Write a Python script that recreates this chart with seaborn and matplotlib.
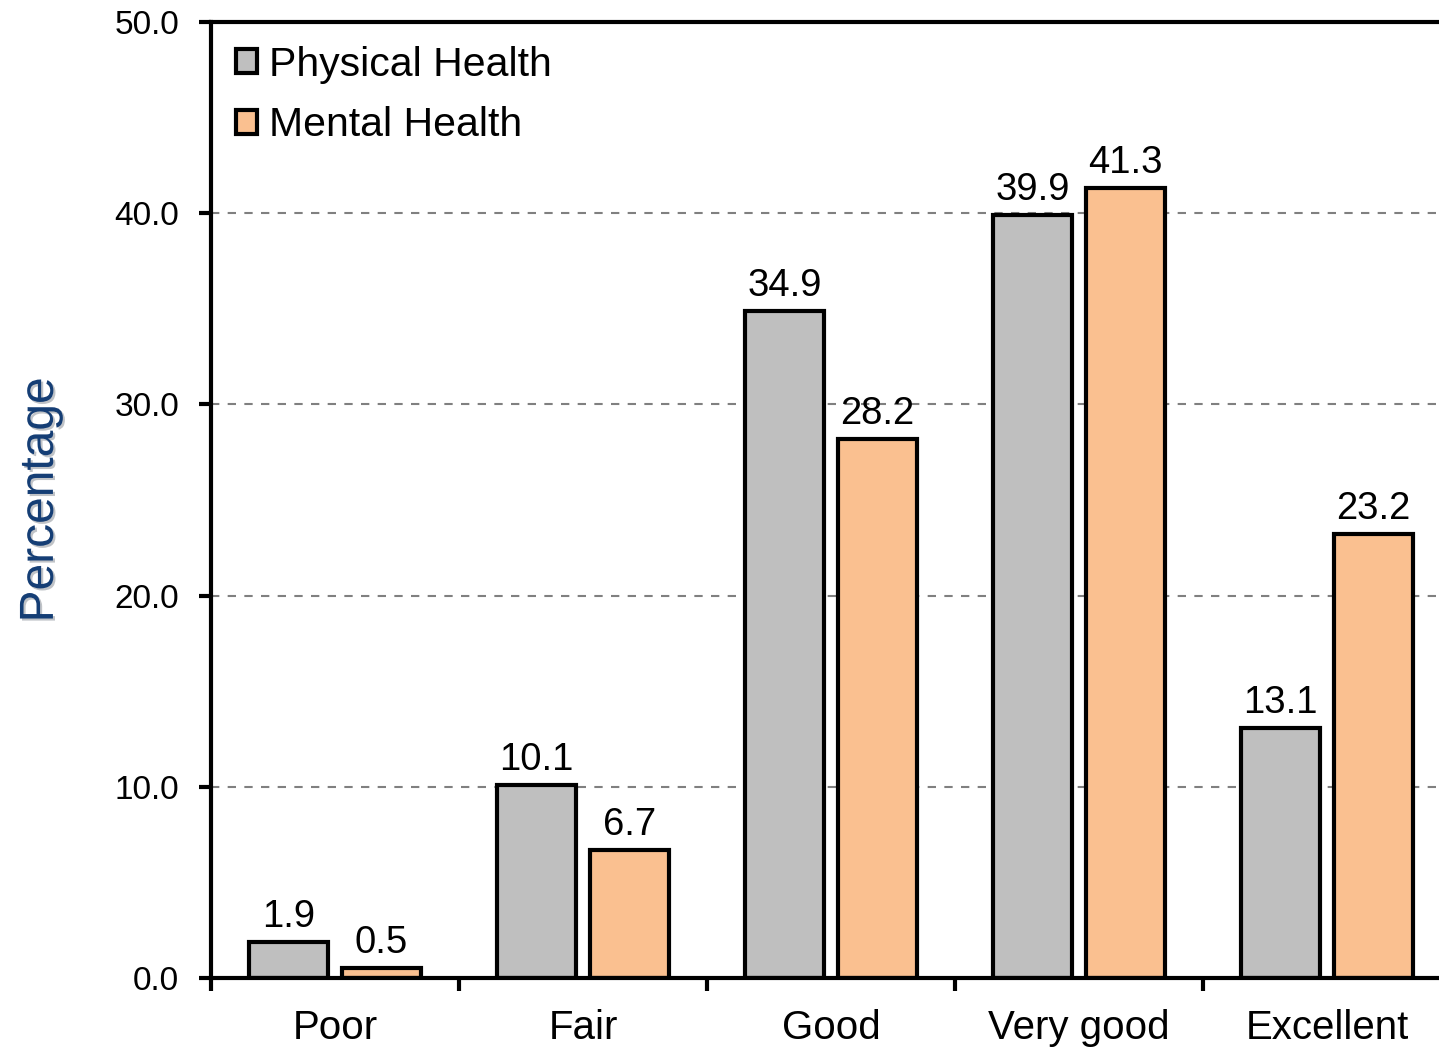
import pandas as pd
import seaborn as sns
import matplotlib.pyplot as plt
import matplotlib.patheffects as pe

categories = ["Poor", "Fair", "Good", "Very good", "Excellent"]
physical = [1.9, 10.1, 34.9, 39.9, 13.1]
mental = [0.5, 6.7, 28.2, 41.3, 23.2]
series = ["Physical Health", "Mental Health"]
colors = {"Physical Health": "#BFBFBF", "Mental Health": "#FAC090"}

df = pd.DataFrame({
    "category": categories * 2,
    "value": physical + mental,
    "series": [series[0]] * len(categories) + [series[1]] * len(categories),
})

sns.set_style("white")
plt.rcParams["font.family"] = ["Liberation Sans", "DejaVu Sans"]
plt.rcParams["text.color"] = "black"
plt.rcParams["xtick.color"] = "black"
plt.rcParams["ytick.color"] = "black"

fig = plt.figure(figsize=(14.39, 10.48), dpi=100)
ax = fig.add_axes([211 / 1439, 1 - 978 / 1048, 1240 / 1439, 956 / 1048])

sns.barplot(data=df, x="category", y="value", hue="series", order=categories,
            hue_order=series, palette=colors, width=0.75, gap=0.15,
            edgecolor="black", linewidth=3, saturation=1, legend=False, ax=ax)

for cont in ax.containers:
    ax.bar_label(cont, fmt="%.1f", padding=5, fontsize=27.5, color="black")

ax.set_xlim(-0.5, 4.5)
ax.set_ylim(0, 50)
ax.set_yticks([0, 10, 20, 30, 40, 50])
ax.set_yticklabels([f"{v:.1f}" for v in [0, 10, 20, 30, 40, 50]])
ax.yaxis.grid(True, color="#808080", linestyle=(0, (4, 4)), linewidth=1.5)
ax.set_axisbelow(True)

ax.set_xticks(range(len(categories)))
ax.set_xticks([i - 0.5 for i in range(len(categories) + 1)], minor=True)
ax.tick_params(axis="x", which="major", bottom=True, length=0, pad=22, labelsize=29)
ax.tick_params(axis="x", which="minor", bottom=True, length=9, width=3, direction="out")
ax.tick_params(axis="y", left=True, length=9, width=3, direction="out", pad=14, labelsize=24)

for side in ["left", "top", "bottom"]:
    ax.spines[side].set_linewidth(3)
    ax.spines[side].set_color("black")
ax.spines["right"].set_visible(False)

ax.set_xlabel("")
ax.set_ylabel("Percentage", fontsize=34.5, color="#153E75", labelpad=37,
              path_effects=[pe.withSimplePatchShadow(offset=(1.5, -1.5), alpha=0.25)])

handles = [plt.Rectangle((0, 0), 1, 1, facecolor=colors[s], edgecolor="black", linewidth=3)
           for s in series]
ax.legend(handles, series, loc="upper left", bbox_to_anchor=(0.02, 0.975), frameon=False,
          fontsize=29.5, handlelength=0.52, handleheight=0.52, handletextpad=0.3,
          labelspacing=0.55, borderpad=0, borderaxespad=0)

fig.savefig("out.png", dpi=100)
